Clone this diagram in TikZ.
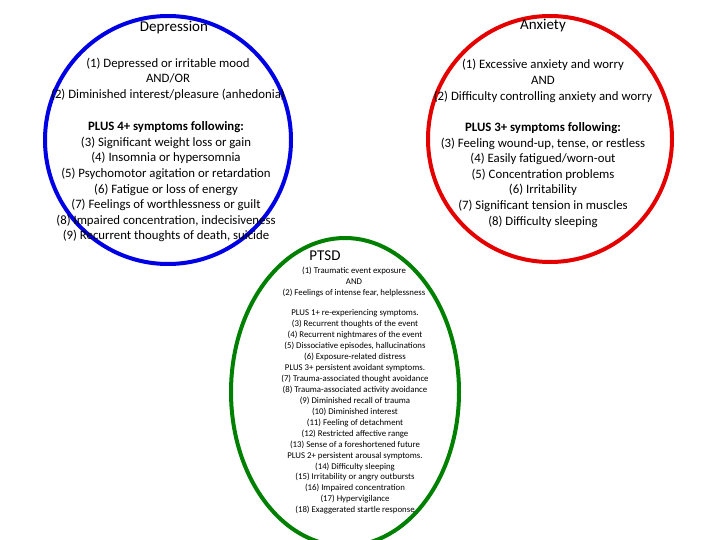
\documentclass[tikz,border=0pt]{standalone}
\usepackage{fontspec}
\setmainfont{Carlito}
\begin{document}
\begin{tikzpicture}[x=1pt,y=-1pt,
 ring/.style={line width=4pt},
 txt/.style={align=center,inner sep=0pt,font=\fontsize{12.8}{15.6}\selectfont},
 ptxt/.style={align=center,inner sep=0pt,font=\fontsize{8.8}{10.95}\selectfont},
 ttl/.style={inner sep=0pt,font=\fontsize{15}{16}\selectfont}]
\useasboundingbox (0,0) rectangle (720,540);
\draw[ring,blue!90!black] (168,140) ellipse [x radius=123,y radius=124];
\draw[ring,red!90!black] (550,139) ellipse [x radius=122,y radius=123];
\draw[ring,green!50!black] (345,392) ellipse [x radius=114,y radius=154];
\node[ttl] (dt) at (174,28) {Depression};
\node[ttl] (at) at (543,26) {Anxiety};
\node[ttl] (pt) at (325,256) {PTSD};
\node[txt] (d1) at (168,79) {(1) Depressed or irritable mood\\AND/OR\\(2) Diminished interest/pleasure (anhedonia)};
\node[txt] (d2) at (166,182) {\textbf{PLUS 4+ symptoms following:}\\(3) Significant weight loss or gain\\(4) Insomnia or hypersomnia\\(5) Psychomotor agitation or retardation\\(6) Fatigue or loss of energy\\(7) Feelings of worthlessness or guilt\\(8) Impaired concentration, indecisiveness\\(9) Recurrent thoughts of death, suicide};
\node[txt] (a1) at (543,81) {(1) Excessive anxiety and worry\\AND\\(2) Difficulty controlling anxiety and worry};
\node[txt] (a2) at (543,175) {\textbf{PLUS 3+ symptoms following:}\\(3) Feeling wound-up, tense, or restless\\(4) Easily fatigued/worn-out\\(5) Concentration problems\\(6) Irritability\\(7) Significant tension in muscles\\(8) Difficulty sleeping};
\node[ptxt] (p1) at (354,282) {(1) Traumatic event exposure\\AND\\(2) Feelings of intense fear, helplessness};
\node[ptxt] (p2) at (355,412) {PLUS 1+ re-experiencing symptoms.\\(3) Recurrent thoughts of the event\\(4) Recurrent nightmares of the event\\(5) Dissociative episodes, hallucinations\\(6) Exposure-related distress\\PLUS 3+ persistent avoidant symptoms.\\(7) Trauma-associated thought avoidance\\(8) Trauma-associated activity avoidance\\(9) Diminished recall of trauma\\(10) Diminished interest\\(11) Feeling of detachment\\(12) Restricted affective range\\(13) Sense of a foreshortened future\\PLUS 2+ persistent arousal symptoms.\\(14) Difficulty sleeping\\(15) Irritability or angry outbursts\\(16) Impaired concentration\\(17) Hypervigilance\\(18) Exaggerated startle response};
\end{tikzpicture}
\end{document}
